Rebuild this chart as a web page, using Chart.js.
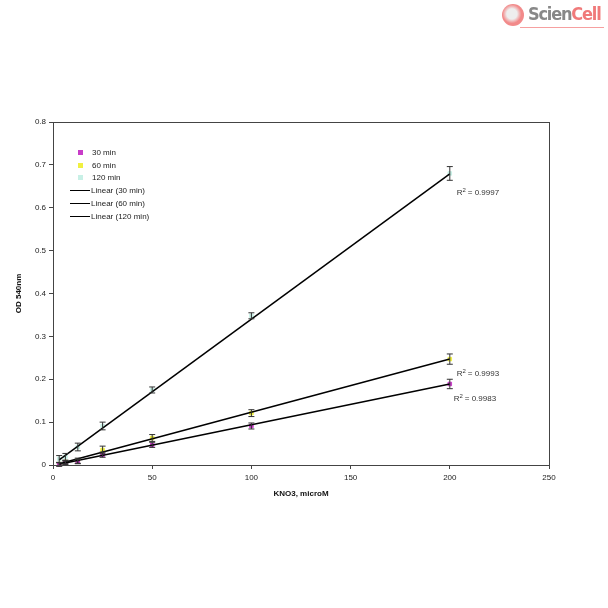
<!DOCTYPE html>
<html lang="en">
<head>
    <meta charset="UTF-8">
    <title>KNO3 standard curve</title>
    <script src="https://cdn.jsdelivr.net/npm/chart.js"></script>
    <style>
        body { margin: 0; background: #fff; font-family: 'Liberation Sans', Arial, sans-serif; }
        #wrap { position: relative; width: 608px; height: 608px; }
        canvas { position: absolute; left: 0; top: 0; }
        #legend { position: absolute; left: 70px; top: 146px; font-size: 8px; color: #222; }
        .row { height: 12.8px; display: flex; align-items: center; }
        .mk { width: 5px; height: 5px; margin-left: 8px; margin-right: 9px; }
        .ln { width: 20px; height: 0; border-top: 1.5px solid #000; margin-right: 1px; }
        #logo { position: absolute; left: 502px; top: 2px; width: 104px; height: 30px; }
        #logo .ball { position: absolute; left: 0; top: 2px; width: 22px; height: 22px; border-radius: 50%;
            background: radial-gradient(circle at 45% 45%, #eee 0 30%, #f28a8a 55%); }
        #logo .txt { position: absolute; left: 26px; top: 1px; font: bold 18px 'DejaVu Sans Condensed', sans-serif; color: #888; letter-spacing: -1.2px; }
        #logo .txt span { color: #f07a7a; }
        #logo .bar { position: absolute; left: 18px; top: 25px; width: 84px; height: 1px; background: #f6a0a0; }
    </style>
</head>
<body>
<div id="wrap">
    <canvas id="chart" width="608" height="608"></canvas>
    <div id="legend">
        <div class="row"><div class="mk" style="background:#c83cc8"></div>30 min</div>
        <div class="row"><div class="mk" style="background:#f0f040"></div>60 min</div>
        <div class="row"><div class="mk" style="background:#c8f0e6"></div>120 min</div>
        <div class="row"><div class="ln"></div>Linear (30 min)</div>
        <div class="row"><div class="ln"></div>Linear (60 min)</div>
        <div class="row"><div class="ln"></div>Linear (120 min)</div>
    </div>
    <div id="logo"><div class="ball"></div><div class="txt">Scien<span>Cell</span></div><div class="bar"></div></div>
</div>
<script>
    // concentrations (microM)
    const conc = [3.125, 6.25, 12.5, 25, 50, 100, 200];
    // OD 540nm readings
    const od30 = [0.001, 0.005, 0.008, 0.024, 0.047, 0.091, 0.189];
    const od60 = [0.002, 0.007, 0.010, 0.035, 0.063, 0.121, 0.247];
    const od120 = [0.014, 0.019, 0.042, 0.091, 0.175, 0.348, 0.680];
    // error bar half-widths
    const err30 = [0.004, 0.004, 0.005, 0.006, 0.006, 0.007, 0.011];
    const err60 = [0.004, 0.004, 0.006, 0.009, 0.008, 0.008, 0.012];
    const err120 = [0.008, 0.008, 0.009, 0.009, 0.007, 0.007, 0.016];
    // trend line ends
    const fitX = [3.125, 200];
    const fit30 = [0.002, 0.189];
    const fit60 = [0.003, 0.247];
    const fit120 = [0.012, 0.679];
    const r2Labels = ['0.9983', '0.9993', '0.9997'];
    const r2Pos = [[202, 0.150], [203.5, 0.208], [203.5, 0.630]];

    const pts = (xs, ys) => xs.map((x, i) => ({ x: x, y: ys[i] }));

    const errorBars = {
        id: 'errorBars',
        afterDatasetsDraw(chart) {
            const c = chart.ctx;
            const ys = chart.scales.y;
            c.save();
            c.strokeStyle = '#333';
            c.lineWidth = 1;
            chart.data.datasets.forEach((ds, di) => {
                if (!ds.errors) return;
                chart.getDatasetMeta(di).data.forEach((p, i) => {
                    const v = ds.data[i].y, e = ds.errors[i];
                    const top = ys.getPixelForValue(v + e), bot = ys.getPixelForValue(v - e);
                    c.beginPath();
                    c.moveTo(p.x, top); c.lineTo(p.x, bot);
                    c.moveTo(p.x - 3, top); c.lineTo(p.x + 3, top);
                    c.moveTo(p.x - 3, bot); c.lineTo(p.x + 3, bot);
                    c.stroke();
                });
            });
            c.restore();
        }
    };

    const frameAndLabels = {
        id: 'frameAndLabels',
        afterDraw(chart) {
            const c = chart.ctx, a = chart.chartArea;
            c.save();
            c.strokeStyle = '#444';
            c.lineWidth = 1;
            c.strokeRect(a.left + 0.5, a.top + 0.5, a.right - a.left, a.bottom - a.top);
            c.fillStyle = '#333';
            c.textBaseline = 'alphabetic';
            r2Labels.forEach((t, i) => {
                const x = chart.scales.x.getPixelForValue(r2Pos[i][0]);
                const y = chart.scales.y.getPixelForValue(r2Pos[i][1]);
                c.font = "8px 'Liberation Sans', Arial";
                c.fillText('R', x, y);
                const w = c.measureText('R').width;
                c.font = "6px 'Liberation Sans', Arial";
                c.fillText('2', x + w, y - 3);
                c.font = "8px 'Liberation Sans', Arial";
                c.fillText(' = ' + t, x + w + 3, y);
            });
            c.restore();
        }
    };

    const tickFont = { family: "'Liberation Sans', Arial", size: 8 };

    new Chart(document.getElementById('chart'), {
        type: 'scatter',
        data: {
            datasets: [
                { label: '30 min', data: pts(conc, od30), errors: err30, pointStyle: 'rect', pointRadius: 2.5,
                  backgroundColor: '#c83cc8', borderColor: '#c83cc8', clip: false, order: 1 },
                { label: '60 min', data: pts(conc, od60), errors: err60, pointStyle: 'rect', pointRadius: 2.5,
                  backgroundColor: '#f0f040', borderColor: '#f0f040', clip: false, order: 1 },
                { label: '120 min', data: pts(conc, od120), errors: err120, pointStyle: 'rect', pointRadius: 2.5,
                  backgroundColor: '#c8f0e6', borderColor: '#c8f0e6', clip: false, order: 1 },
                { label: 'Linear (30 min)', data: pts(fitX, fit30), showLine: true, borderColor: '#000', borderWidth: 1.5, pointRadius: 0, order: 0 },
                { label: 'Linear (60 min)', data: pts(fitX, fit60), showLine: true, borderColor: '#000', borderWidth: 1.5, pointRadius: 0, order: 0 },
                { label: 'Linear (120 min)', data: pts(fitX, fit120), showLine: true, borderColor: '#000', borderWidth: 1.5, pointRadius: 0, order: 0 }
            ]
        },
        options: {
            responsive: false,
            animation: false,
            layout: { padding: { top: 122, right: 59, bottom: 109, left: 14 } },
            plugins: { legend: { display: false }, tooltip: { enabled: false } },
            scales: {
                x: {
                    min: 0, max: 250,
                    afterFit: s => { s.height = 34; },
                    ticks: { stepSize: 50, font: tickFont, color: '#222', padding: 4 },
                    grid: { drawOnChartArea: false, tickLength: 4, color: '#444' },
                    border: { color: '#444' },
                    title: { display: true, text: 'KNO3, microM', color: '#111',
                             font: { family: "'Liberation Sans', Arial", size: 8, weight: 'bold' }, padding: 0 }
                },
                y: {
                    min: 0, max: 0.8,
                    afterFit: s => { s.width = 39; },
                    ticks: { stepSize: 0.1, font: tickFont, color: '#222', padding: 3,
                             callback: v => Math.round(v * 10) / 10 },
                    grid: { drawOnChartArea: false, tickLength: 4, color: '#444' },
                    border: { color: '#444' },
                    title: { display: true, text: 'OD 540nm', color: '#111',
                             font: { family: "'Liberation Sans', Arial", size: 8, weight: 'bold' }, padding: 0 }
                }
            }
        },
        plugins: [errorBars, frameAndLabels]
    });
</script>
</body>
</html>
